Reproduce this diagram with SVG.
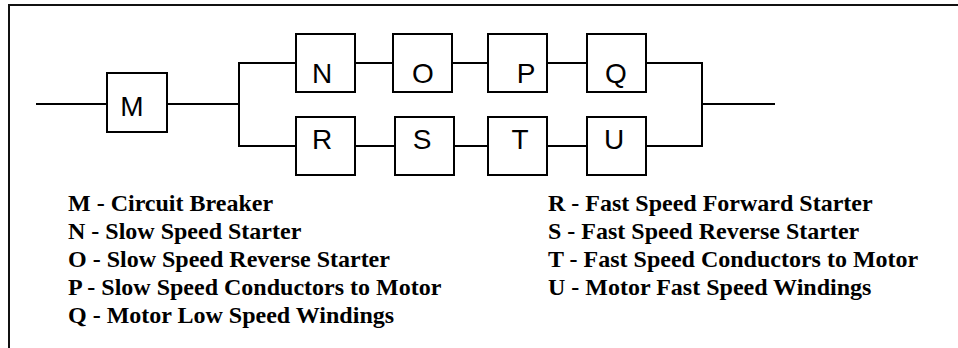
<svg xmlns="http://www.w3.org/2000/svg" width="958" height="348" viewBox="0 0 958 348">
<style>
.box{fill:#fff;stroke:#000;stroke-width:2}
.wire{fill:none;stroke:#000;stroke-width:2}
.lbl{font-family:"Liberation Sans",Arial,sans-serif;font-size:28px;fill:#000;text-anchor:middle}
</style>
<rect width="958" height="348" fill="#fff"/>
<path d="M9,348 V5 H958" fill="none" stroke="#111" stroke-width="2"/>
<g id="connectors" class="wire">
<path d="M36,104 H107"/>
<path d="M167,104 H239"/>
<path d="M295,63 H239 V146 H295"/>
<path d="M355,63 H393"/>
<path d="M452,63 H488"/>
<path d="M547,63 H587"/>
<path d="M355,146 H395"/>
<path d="M454,146 H488"/>
<path d="M547,146 H587"/>
<path d="M646,63 H702 V146 H646"/>
<path d="M702,104 H775"/>
</g>
<g id="M"><rect class="box" x="107" y="73" width="60" height="59"/><text class="lbl" x="132" y="116">M</text></g>
<g id="N"><rect class="box" x="296" y="34" width="59" height="58"/><text class="lbl" x="322" y="83">N</text></g>
<g id="O"><rect class="box" x="393" y="34" width="59" height="58"/><text class="lbl" x="423" y="83">O</text></g>
<g id="P"><rect class="box" x="488" y="34" width="59" height="58"/><text class="lbl" x="526" y="83">P</text></g>
<g id="Q"><rect class="box" x="587" y="34" width="59" height="58"/><text class="lbl" x="616" y="83">Q</text></g>
<g id="R"><rect class="box" x="296" y="117" width="59" height="58"/><text class="lbl" x="322" y="149">R</text></g>
<g id="S"><rect class="box" x="395" y="117" width="59" height="58"/><text class="lbl" x="422" y="149">S</text></g>
<g id="T"><rect class="box" x="488" y="117" width="59" height="58"/><text class="lbl" x="520" y="149">T</text></g>
<g id="U"><rect class="box" x="587" y="117" width="59" height="58"/><text class="lbl" x="614" y="149">U</text></g>
<g id="legend" font-family="'Liberation Serif', 'Times New Roman', 'DejaVu Serif', serif" font-size="24" font-weight="bold" fill="#000">
<text x="68" y="211">M - Circuit Breaker</text>
<text x="68" y="239">N - Slow Speed Starter</text>
<text x="68" y="267">O - Slow Speed Reverse Starter</text>
<text x="68" y="295">P - Slow Speed Conductors to Motor</text>
<text x="68" y="323">Q - Motor Low Speed Windings</text>
<text x="548" y="211">R - Fast Speed Forward Starter</text>
<text x="548" y="239">S - Fast Speed Reverse Starter</text>
<text x="548" y="267">T - Fast Speed Conductors to Motor</text>
<text x="548" y="295">U - Motor Fast Speed Windings</text>
</g>
</svg>
